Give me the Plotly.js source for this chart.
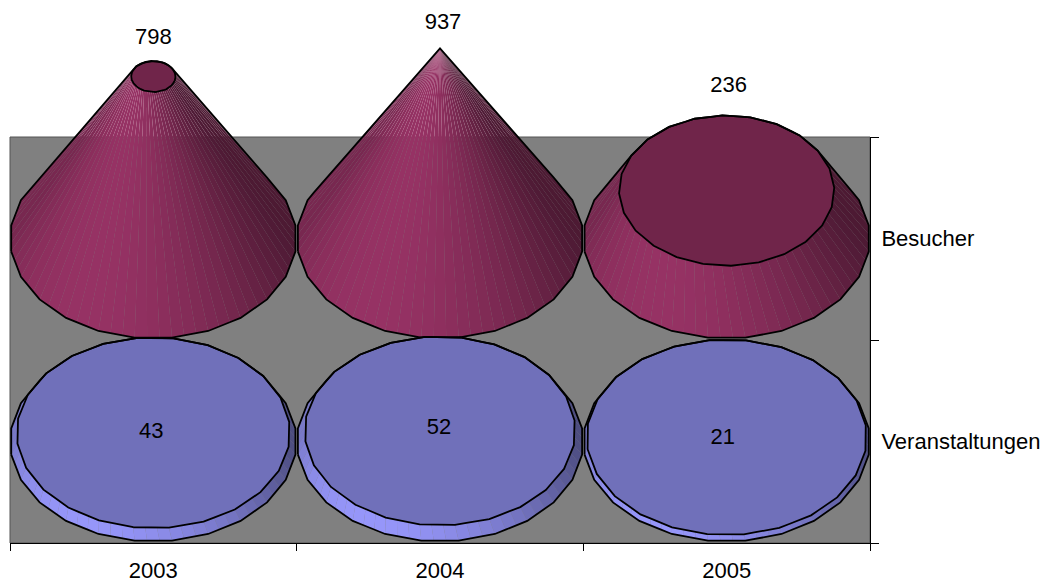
<!DOCTYPE html>
<html>
<head>
<meta charset="utf-8">
<script src="https://cdn.plot.ly/plotly-3.0.1.min.js"></script>
<style>html,body{margin:0;padding:0;background:#fff}</style>
</head>
<body>
<div id="chart" style="width:1047px;height:582px"></div>
<script>
// Chart data
const years = ["2003", "2004", "2005"];
const seriesNames = ["Veranstaltungen", "Besucher"];
const visitors = [798, 937, 236];
const events = [43, 52, 21];

// Cone solids: one row per series, one column per year.
// A cone of the tallest value comes to a point; a lower one is cut off flat.
const rows = [
  { values: visitors, rgb: [153, 51, 102], row: 1 },
  { values: events, rgb: [153, 153, 255], row: 0 }
];
const valuePerRow = 1000;
const peak = Math.max(...visitors, ...events);
const radiusX = 0.5, radiusY = 0.493;
const outlineSides = 24, facetsPerSide = 3;

// Frame of the axes on the page
const pageW = 1047, pageH = 582;
const frame = { left: 9.5, right: 870.5, top: 137, bottom: 543 };
const colPx = (frame.right - frame.left) / years.length;
const rowPx = (frame.bottom - frame.top) / seriesNames.length;

const shade = (rgb, f) => "rgb(" + rgb.map(c => Math.round(c * f)).join(",") + ")";
const rad = d => d * Math.PI / 180;

// Unit ring: a coarse polygon whose edges are split into facet-sized steps.
function unitRing() {
  const pts = [];
  const step = 360 / outlineSides;
  const corner = k => {
    const d = 270 - step / 2 + k * step;
    return [Math.cos(rad(d)), Math.sin(rad(d))];
  };
  for (let k = 0; k < outlineSides; k++) {
    const a = corner(k), b = corner(k + 1);
    for (let j = 0; j < facetsPerSide; j++) {
      const t = j / facetsPerSide;
      pts.push([a[0] + (b[0] - a[0]) * t, a[1] + (b[1] - a[1]) * t]);
    }
  }
  return pts;
}

function hull(points) {
  const p = points.slice().sort((a, b) => a[0] - b[0] || a[1] - b[1]);
  const cross = (o, a, b) => (a[0] - o[0]) * (b[1] - o[1]) - (a[1] - o[1]) * (b[0] - o[0]);
  const half = list => {
    const out = [];
    for (const q of list) {
      while (out.length > 1 && cross(out[out.length - 2], out[out.length - 1], q) <= 0) out.pop();
      out.push(q);
    }
    out.pop();
    return out;
  };
  return half(p).concat(half(p.slice().reverse()));
}

const poly = (pts, extra) => Object.assign({
  x: pts.map(q => q[0]), y: pts.map(q => q[1]),
  xaxis: "x2", yaxis: "y2", mode: "lines", hoverinfo: "skip"
}, extra);

const closed = pts => pts.concat([pts[0]]);
const traces = [];

// Invisible trace that keeps the two category axes populated
traces.push({
  x: years, y: [seriesNames[0], seriesNames[1], seriesNames[1]],
  mode: "markers", marker: { opacity: 0 }, hoverinfo: "skip"
});

const ring = unitRing();
const labels = { x: [], y: [], text: [] };
// Small offsets of the value labels, in pixels (right, up)
const labelNudge = { 1: [[0, -4], [3, -2], [2, 2]], 0: [[-2, 0], [-1, 2], [-4, -1]] };

rows.forEach(({ values, rgb, row }) => {
  values.forEach((v, col) => {
    const topScale = 1 - v / peak;
    const rise = v / valuePerRow;
    const lean = 0.55 * v / valuePerRow;
    const base = ring.map(([c, s]) => [col + radiusX * c, row + radiusY * s]);
    const top = ring.map(([c, s]) => {
      const ax = radiusX * topScale * c, ay = radiusY * topScale * s;
      return [
        col + ax + lean * ay * rowPx / colPx,
        row + rise + ay - 0.5 * lean * ax * colPx / rowPx
      ];
    });

    // Side facets that face the viewer
    ring.forEach((_, i) => {
      const j = (i + 1) % ring.length;
      const q = [base[i], base[j], top[j], top[i]];
      let area = 0;
      q.forEach((a, k) => {
        const b = q[(k + 1) % 4];
        area += a[0] * b[1] - b[0] * a[1];
      });
      if (area <= 0) return;
      const mx = ring[i][0] + ring[j][0], my = ring[i][1] + ring[j][1];
      let deg = Math.atan2(my, mx) * 180 / Math.PI;
      if (deg < 0) deg += 360;
      if (deg < 90) deg = 360; else if (deg < 180) deg = 180;
      const light = (Math.cos(rad(deg - 240)) + 0.5) / 1.5;
      traces.push(poly(closed(q), {
        fill: "toself", line: { width: 0 },
        fillcolor: shade(rgb, 0.5 + 0.48 * Math.pow(light, 1.3))
      }));
    });

    // Flat cut at the top of the solid
    if (topScale > 0.001) {
      traces.push(poly(closed(top), {
        fill: "toself", fillcolor: shade(rgb, 0.73),
        line: { color: "#000", width: 1.8 }
      }));
    }
    // Silhouette
    traces.push(poly(closed(hull(base.concat(top))), {
      line: { color: "#000", width: 1.8 }
    }));

    // Value label: above the solid when it stands tall, on the disc when it is flat
    const nudge = labelNudge[row][col];
    const anchorY = row === 1
      ? Math.max(...top.map(q => q[1])) + 27 / rowPx
      : row + rise;
    labels.x.push(col + nudge[0] / colPx);
    labels.y.push(anchorY + nudge[1] / rowPx);
    labels.text.push(String(v));
  });
});

traces.push({
  x: labels.x, y: labels.y, text: labels.text,
  xaxis: "x2", yaxis: "y2", mode: "text", textposition: "middle center",
  textfont: { family: "Liberation Sans", size: 22, color: "#000" },
  hoverinfo: "skip"
});

const axisFont = { family: "Liberation Sans", size: 22, color: "#000" };
const layout = {
  width: pageW, height: pageH,
  margin: { l: frame.left, r: pageW - frame.right, t: 0, b: pageH - frame.bottom, pad: 0 },
  paper_bgcolor: "#fff", plot_bgcolor: "rgba(0,0,0,0)",
  showlegend: false,
  xaxis: {
    type: "category", categoryorder: "array", categoryarray: years,
    range: [-0.5, 2.5], tickson: "boundaries", ticks: "outside", ticklen: 7,
    ticklabelstandoff: 8,
    tickwidth: 1, tickcolor: "#000", showgrid: false, zeroline: false,
    showline: true, linecolor: "#000", linewidth: 1,
    tickfont: axisFont, fixedrange: true, anchor: "y"
  },
  yaxis: {
    type: "category", categoryorder: "array", categoryarray: seriesNames,
    domain: [0, (frame.bottom - frame.top) / frame.bottom],
    range: [-0.5, 1.5], side: "right", tickson: "boundaries", ticks: "outside", ticklen: 8,
    ticklabelstandoff: 6,
    tickwidth: 1, tickcolor: "#000", showgrid: false, zeroline: false,
    showline: true, linecolor: "#000", linewidth: 1,
    tickfont: axisFont, fixedrange: true, anchor: "x"
  },
  // Same column and row scale, extended upward so tall cones rise above the frame
  xaxis2: { range: [-0.5, 2.5], visible: false, fixedrange: true, anchor: "y2" },
  yaxis2: {
    domain: [0, 1], range: [-0.5, -0.5 + frame.bottom / rowPx],
    visible: false, fixedrange: true, anchor: "x2"
  },
  shapes: [{
    type: "rect", layer: "below",
    xref: "x domain", yref: "y domain", x0: 0, x1: 1, y0: 0, y1: 1,
    fillcolor: "#808080", line: { color: "#555", width: 1 }
  }]
};

Plotly.newPlot("chart", traces, layout, { displayModeBar: false, staticPlot: true });
</script>
</body>
</html>
